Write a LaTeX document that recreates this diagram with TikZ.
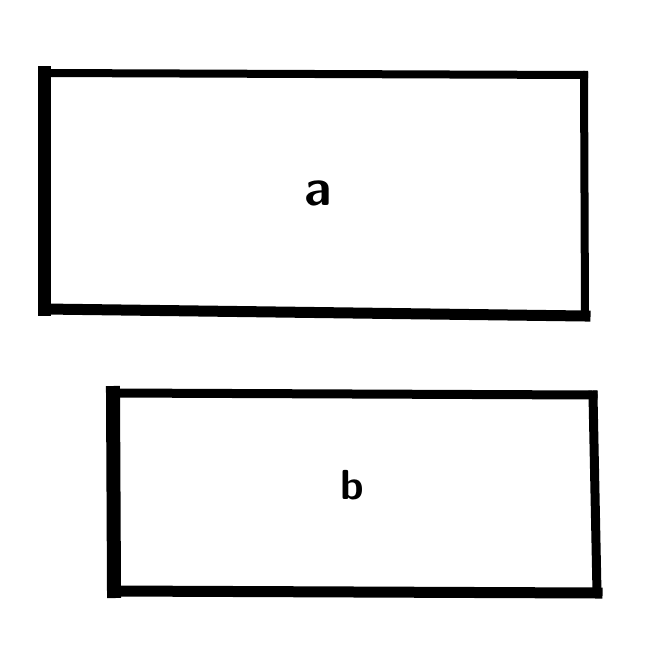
\documentclass[tikz,border=0pt]{standalone}
\begin{document}
\begin{tikzpicture}[x=1pt,y=-1pt,
  edge/.style={line cap=rect, black},
  lbl/.style={inner sep=0pt, font=\sffamily\bfseries}]
\useasboundingbox[fill=white] (0,0) rectangle (657,668);
% top rectangle
\coordinate (tl) at (44,73);
\coordinate (tr) at (584,75);
\coordinate (br) at (585,316);
\coordinate (bl) at (44,309);
\draw[edge, line width=8pt] (tl) -- (tr);
\draw[edge, line width=8pt] (tr) -- (br);
\draw[edge, line width=11pt] (br) -- (bl);
\draw[edge, line width=13pt] (bl) -- (tl);
\node[lbl, font=\sffamily\bfseries\fontsize{52}{52}\selectfont] (a) at (318,193) {a};
% bottom rectangle
\coordinate (tl2) at (113,393);
\coordinate (tr2) at (593,395);
\coordinate (br2) at (597,593);
\coordinate (bl2) at (114,591);
\draw[edge, line width=9pt] (tl2) -- (tr2);
\draw[edge, line width=9pt] (tr2) -- (br2);
\draw[edge, line width=11pt] (br2) -- (bl2);
\draw[edge, line width=14pt] (bl2) -- (tl2);
\node[lbl, font=\sffamily\bfseries\fontsize{42}{42}\selectfont] (b) at (352,485) {b};
\end{tikzpicture}
\end{document}
